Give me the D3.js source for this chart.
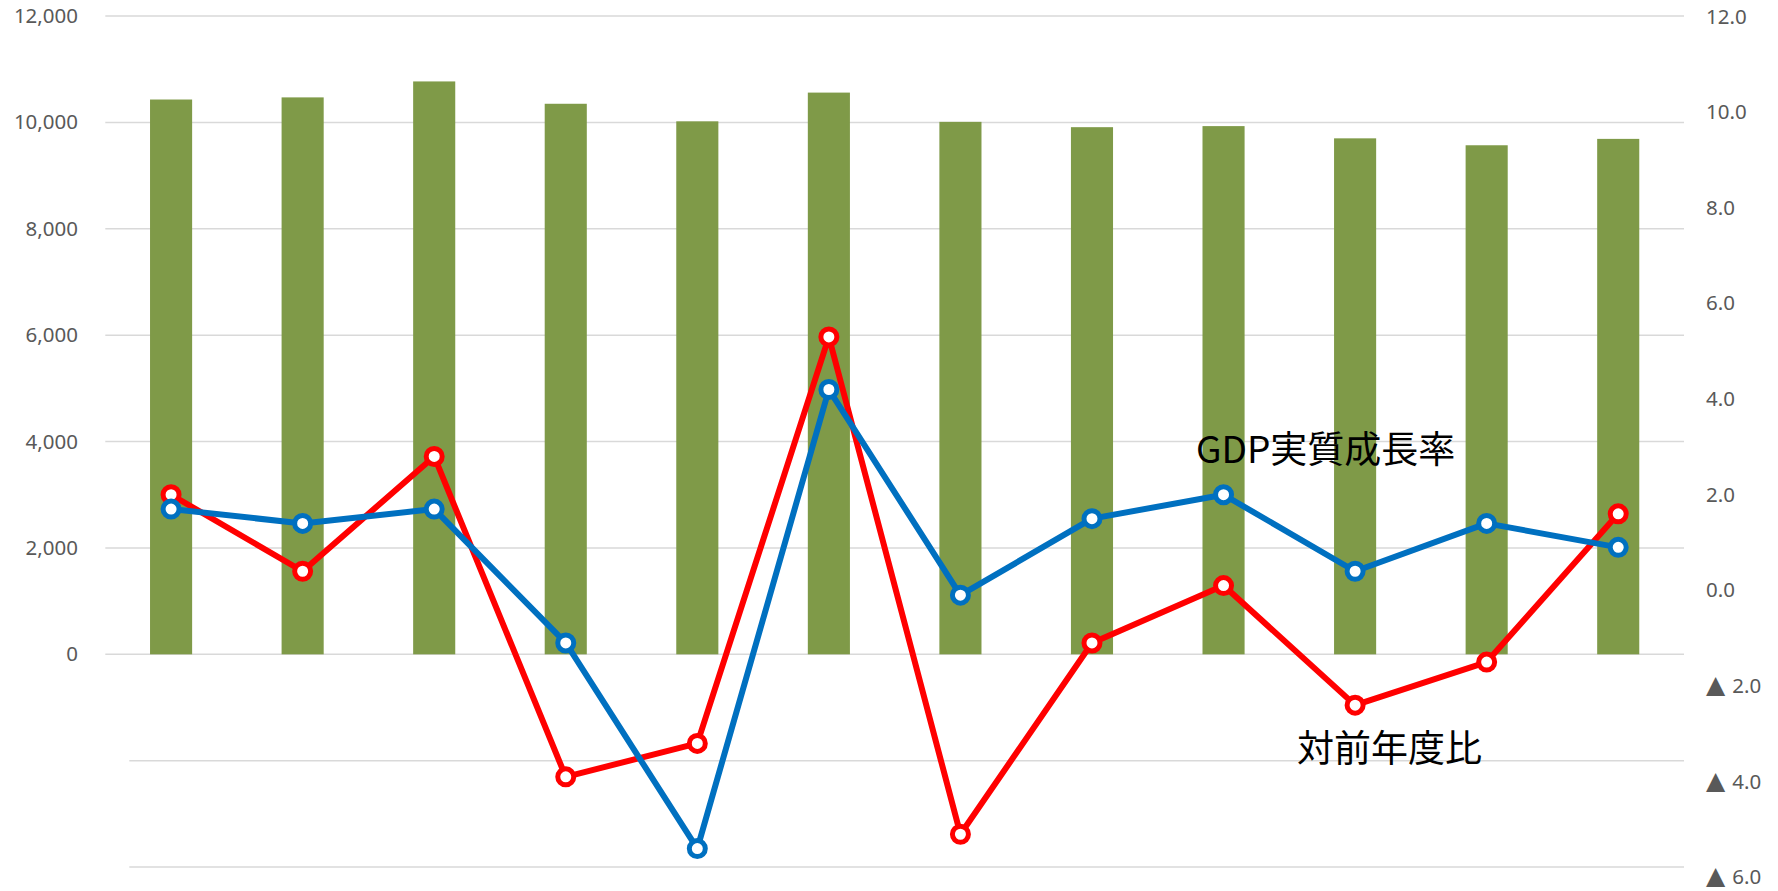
<!DOCTYPE html>
<html lang="ja">
<head>
<meta charset="utf-8">
<script src="https://cdn.jsdelivr.net/npm/d3@7"></script>
<style>
  body { margin: 0; background: #fff; }
  svg { display: block; }
  .tick-label { font-family: "Noto Sans", "DejaVu Sans", sans-serif; font-size: 20.5px; fill: #595959; }
  .series-label { font-family: "Noto Sans CJK JP", sans-serif; font-size: 37px; fill: #000; }
</style>
</head>
<body>
<svg id="chart" width="1778" height="891"></svg>
<script>
// categories (no labels shown on the chart)
const categories = ["1", "2", "3", "4", "5", "6", "7", "8", "9", "10", "11", "12"];
// bars, left axis
const gdpValues = [10430, 10470, 10770, 10350, 10020, 10560, 10010, 9910, 9930, 9700, 9570, 9690];
// lines, right axis
const growthRate = [1.7, 1.4, 1.7, -1.1, -5.4, 4.2, -0.1, 1.5, 2.0, 0.4, 1.4, 0.9];
const yoyRatio = [2.0, 0.4, 2.8, -3.9, -3.2, 5.3, -5.1, -1.1, 0.1, -2.4, -1.5, 1.6];
// ticks
const leftTicks = [-4000, -2000, 0, 2000, 4000, 6000, 8000, 10000, 12000];
const rightTicks = [-6, -4, -2, 0, 2, 4, 6, 8, 10, 12];
const seriesNames = ["GDP実質成長率", "対前年度比"];

const svg = d3.select("#chart");

//Scales
const plotLeft = 105.3;
const plotRight = 1684;
const xScale = d3
  .scaleBand()
  .domain(categories)
  .range([plotLeft, plotRight])
  .paddingInner(0.68)
  .paddingOuter(0.34);

const yLeft = d3.scaleLinear().domain([-4000, 12000]).range([867.1, 16]);
const yRight = d3.scaleLinear().domain([-6, 12]).range([877.3, 16.5]);

const cx = (d, i) => xScale(categories[i]) + xScale.bandwidth() / 2;

//Gridlines (negative ones start further right)
svg
  .append("g")
  .attr("class", "grid")
  .selectAll("line")
  .data(leftTicks)
  .enter()
  .append("line")
  .attr("x1", (d) => (d < 0 ? 129.3 : plotLeft))
  .attr("x2", plotRight)
  .attr("y1", (d) => yLeft(d))
  .attr("y2", (d) => yLeft(d))
  .attr("stroke", "#d9d9d9")
  .attr("stroke-width", 1.5);

const cleanLabels = (g) => {
  g.select(".domain").remove();
  g.selectAll("text")
    .attr("class", "tick-label")
    .attr("fill", null)
    .attr("font-size", null)
    .attr("font-family", null);
};

//Left axis labels, negatives hidden
const leftAxis = d3
  .axisLeft(yLeft)
  .tickValues(leftTicks)
  .tickSize(0)
  .tickPadding(0)
  .tickFormat((d) => (d < 0 ? "" : d3.format(",")(d)));

svg
  .append("g")
  .attr("id", "y-left")
  .attr("transform", `translate(${78},${0})`)
  .call(leftAxis)
  .call(cleanLabels);

//Right axis labels, negatives written with a big ▲
const rightAxis = d3
  .axisRight(yRight)
  .tickValues(rightTicks)
  .tickSize(0)
  .tickPadding(0)
  .tickFormat((d) => (d < 0 ? "" : d3.format(".1f")(d)));

const yRightG = svg
  .append("g")
  .attr("id", "y-right")
  .attr("transform", `translate(${1706},${0})`)
  .call(rightAxis)
  .call(cleanLabels);

yRightG
  .selectAll(".tick")
  .filter((d) => d < 0)
  .select("text")
  .each(function (d) {
    const t = d3.select(this);
    t.append("tspan")
      .attr("font-family", "DejaVu Sans, sans-serif")
      .attr("font-size", "25px")
      .attr("dx", 0)
      .text("▲");
    t.append("tspan").attr("dx", 7).text(d3.format(".1f")(-d));
  });

//Bars
svg
  .append("g")
  .attr("id", "bars")
  .selectAll("rect")
  .data(gdpValues)
  .enter()
  .append("rect")
  .attr("x", (d, i) => xScale(categories[i]))
  .attr("width", xScale.bandwidth())
  .attr("y", (d) => yLeft(d))
  .attr("height", (d) => yLeft(0) - yLeft(d))
  .attr("fill", "#7f9a48");

//Lines with hollow markers
const drawSeries = (values, color) => {
  const line = d3
    .line()
    .x(cx)
    .y((d) => yRight(d));
  const g = svg.append("g");
  g.append("path")
    .datum(values)
    .attr("d", line)
    .attr("fill", "none")
    .attr("stroke", color)
    .attr("stroke-width", 6)
    .attr("stroke-linejoin", "round");
  g.selectAll("circle")
    .data(values)
    .enter()
    .append("circle")
    .attr("cx", cx)
    .attr("cy", (d) => yRight(d))
    .attr("r", 8)
    .attr("fill", "#fff")
    .attr("stroke", color)
    .attr("stroke-width", 5);
};

drawSeries(yoyRatio, "#ff0000");
drawSeries(growthRate, "#0070c0");

//Series labels
svg
  .append("text")
  .attr("class", "series-label")
  .attr("x", 1196)
  .attr("y", 463)
  .text(seriesNames[0]);

svg
  .append("text")
  .attr("class", "series-label")
  .attr("x", 1297)
  .attr("y", 762)
  .text(seriesNames[1]);
</script>
</body>
</html>
